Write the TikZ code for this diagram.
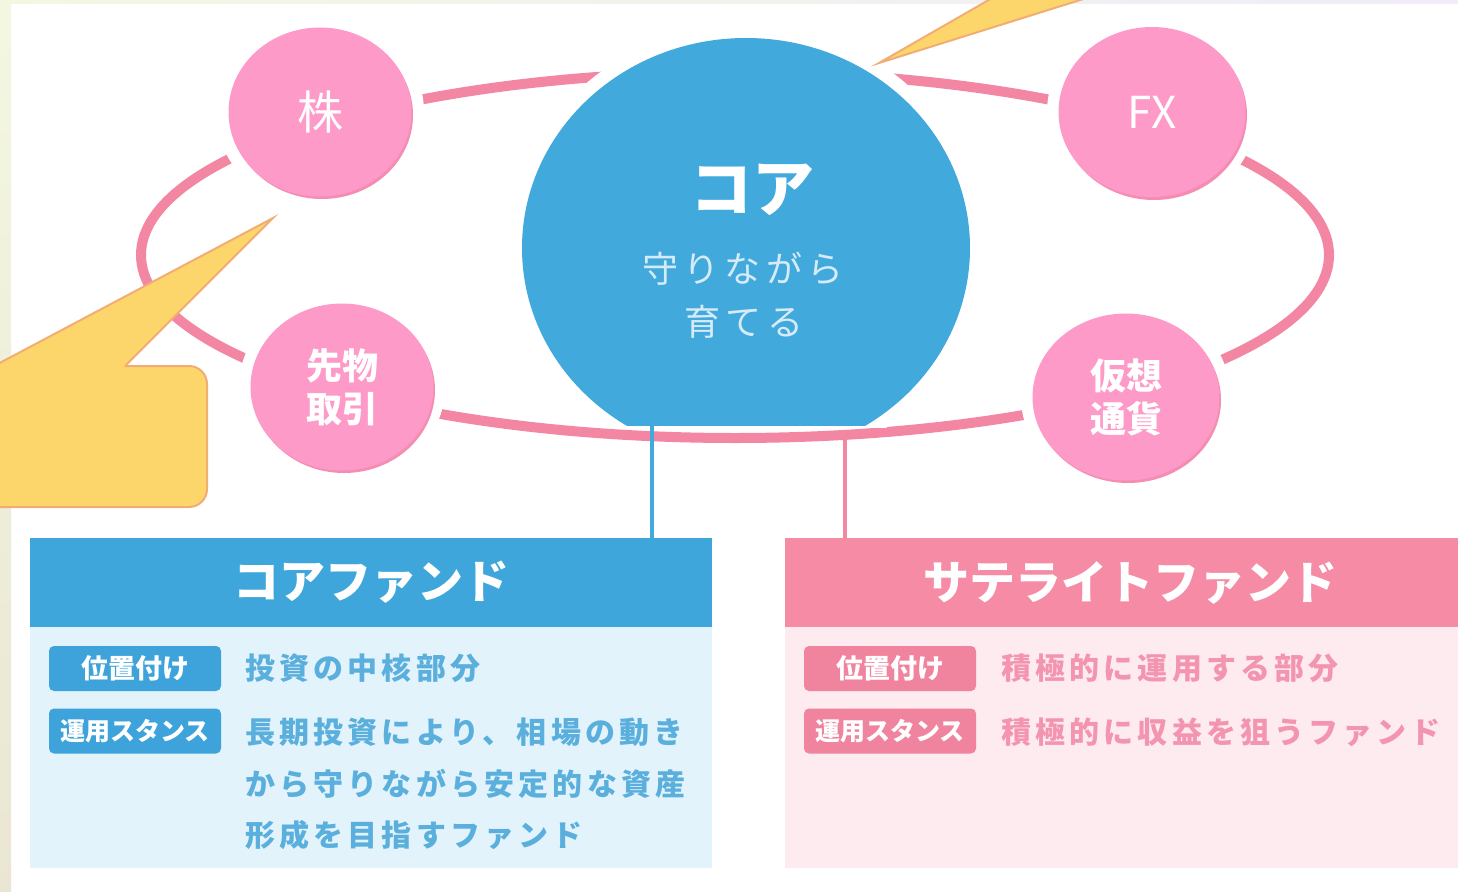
\documentclass[tikz,border=0pt]{standalone}
\usepackage{fontspec}
\newfontfamily\jp{Noto Sans CJK JP}
\newfontfamily\jpsp[LetterSpace=14]{Noto Sans CJK JP}
\usetikzlibrary{shapes.geometric}
\definecolor{ringpink}{HTML}{F286A3}
\definecolor{circpink}{HTML}{FE9AC8}
\definecolor{circshadow}{HTML}{F58DB3}
\definecolor{coreblue}{HTML}{42A9DD}
\definecolor{headblue}{HTML}{3FA6DC}
\definecolor{bodyblue}{HTML}{E2F3FC}
\definecolor{badgeblue}{HTML}{3DA3DA}
\definecolor{textblue}{HTML}{5AAFDD}
\definecolor{headpink}{HTML}{F58BA4}
\definecolor{bodypink}{HTML}{FDEBF0}
\definecolor{badgepink}{HTML}{F0849F}
\definecolor{textpink}{HTML}{F395B0}
\definecolor{callfill}{HTML}{FDD66B}
\definecolor{calldraw}{HTML}{F2AD74}
\definecolor{coresub}{HTML}{D5EBF7}
\definecolor{bgleftA}{HTML}{F3F7E2}
\definecolor{bgleftB}{HTML}{EAE6D3}
\definecolor{bgtopB}{HTML}{F1ECF8}
\begin{document}
\begin{tikzpicture}[x=1pt,y=-1pt,
  ring/.style={draw=ringpink,line width=10pt},
  halo/.style={fill=white},
  pinkcirc/.style={ellipse,fill=circpink,inner sep=0pt,text=white,align=center},
  coreshape/.style={ellipse,fill=coreblue,inner sep=0pt,minimum width=448pt,minimum height=420pt},
  head/.style={inner sep=0pt,minimum height=89pt,text=white,font=\jp\bfseries\fontsize{46}{50}\selectfont},
  body/.style={inner sep=0pt,anchor=north west},
  badge/.style={rounded corners=5pt,inner sep=0pt,minimum width=172pt,minimum height=45pt,text=white},
  btext/.style={anchor=west,inner sep=0pt,font=\jpsp\bfseries\fontsize{30}{36}\selectfont},
  conn/.style={line width=4pt},
  callout/.style={fill=callfill,draw=calldraw,line width=2pt}]
\useasboundingbox (0,0) rectangle (1458,891);
\clip (0,0) rectangle (1458,891);
% background
\fill[white] (0,0) rectangle (1458,891);
\shade[top color=bgleftA,bottom color=bgleftB] (0,0) rectangle (11,891);
\shade[left color=bgleftA,right color=bgtopB] (0,0) rectangle (1458,4);
% ring
\draw[ring] (735,255) ellipse [x radius=594, y radius=183];
% halos
\fill[halo] (320,112) ellipse [x radius=104, y radius=97];
\fill[halo] (342,387) ellipse [x radius=103, y radius=95];
\fill[halo] (1152,112) ellipse [x radius=105, y radius=97];
\fill[halo] (1126,397) ellipse [x radius=105, y radius=95];
\begin{scope}
\clip (400,0) rectangle (1100,427);
\fill[halo] (746,248) ellipse [x radius=237, y radius=223];
\end{scope}
% core
\begin{scope}
\clip (400,0) rectangle (1100,425);
\node[coreshape] (core) at (746,248) {};
\end{scope}
\node[inner sep=0pt,text=white,font=\jp\bfseries\fontsize{62}{66}\selectfont] (coretitle) at (752,190) {コア};
\node[inner sep=0pt,text=coresub,font=\jpsp\fontsize{36}{40}\selectfont] (coresub1) at (743,269) {守りながら};
\node[inner sep=0pt,text=coresub,font=\jpsp\fontsize{36}{40}\selectfont] (coresub2) at (744,322) {育てる};
% pink circles
\fill[circshadow] (322,115) ellipse [x radius=91, y radius=84];
\node[pinkcirc,minimum width=183pt,minimum height=169pt,font=\jp\fontsize{46}{50}\selectfont] (kabu) at (320,112) {株};
\fill[circshadow] (344,390) ellipse [x radius=91, y radius=83];
\node[pinkcirc,minimum width=183pt,minimum height=167pt,font=\jp\bfseries\fontsize{36}{43}\selectfont] (sakimono) at (342,387) {先物\\取引};
\fill[circshadow] (1154,115) ellipse [x radius=93, y radius=85];
\node[pinkcirc,minimum width=187pt,minimum height=170pt,font=\jp\fontsize{44}{48}\selectfont] (fx) at (1152,112) {FX};
\fill[circshadow] (1128,400) ellipse [x radius=93, y radius=83];
\node[pinkcirc,minimum width=187pt,minimum height=167pt,font=\jp\bfseries\fontsize{36}{43}\selectfont] (kaso) at (1126,397) {仮想\\通貨};
% callouts
\fill[callout] (-60,366) [rounded corners=18pt] rectangle (207,507);
\fill[callfill] (123,368) -- (273,218) -- (-10,368) -- cycle;
\draw[draw=calldraw,line width=2pt] (125,366) -- (273,218) -- (-6,366);
\filldraw[callout] (1041,-30) -- (879,63) -- (1176,-30) -- cycle;
% boxes
\node[body,fill=bodyblue,minimum width=682pt,minimum height=241pt] (corebody) at (30,627) {};
\node[head,fill=headblue,minimum width=682pt] (corehead) at (371,582.5) {コアファンド};
\node[body,fill=bodypink,minimum width=690pt,minimum height=241pt] (satbody) at (785,627) {};
\node[head,fill=headpink,minimum width=690pt] (sathead) at (1130,582.5) {サテライトファンド};
% connectors
\coordinate (coreb) at (652,424);
\coordinate (satb) at (845,440);
\draw[conn,draw=coreblue] (coreb) -- (coreb |- corehead.north);
\draw[conn,draw=ringpink] (satb) -- (satb |- sathead.north);
% badges and texts, core
\node[badge,fill=badgeblue,font=\jp\bfseries\fontsize{27}{30}\selectfont] (cb1) at (135,668.5) {位置付け};
\node[badge,fill=badgeblue,font=\jp\bfseries\fontsize{25}{28}\selectfont] (cb2) at (135,731) {運用スタンス};
\node[btext,text=textblue] (ct1) at (245,668) {投資の中核部分};
\node[btext,text=textblue] (ct2) at (245,732) {長期投資により、相場の動き};
\node[btext,text=textblue] (ct3) at (245,784) {から守りながら安定的な資産};
\node[btext,text=textblue] (ct4) at (245,835) {形成を目指すファンド};
% badges and texts, satellite
\node[badge,fill=badgepink,font=\jp\bfseries\fontsize{27}{30}\selectfont] (sb1) at (890,668.5) {位置付け};
\node[badge,fill=badgepink,font=\jp\bfseries\fontsize{25}{28}\selectfont] (sb2) at (890,731) {運用スタンス};
\node[btext,text=textpink] (st1) at (1001,668) {積極的に運用する部分};
\node[btext,text=textpink] (st2) at (1001,732) {積極的に収益を狙うファンド};
\end{tikzpicture}
\end{document}
